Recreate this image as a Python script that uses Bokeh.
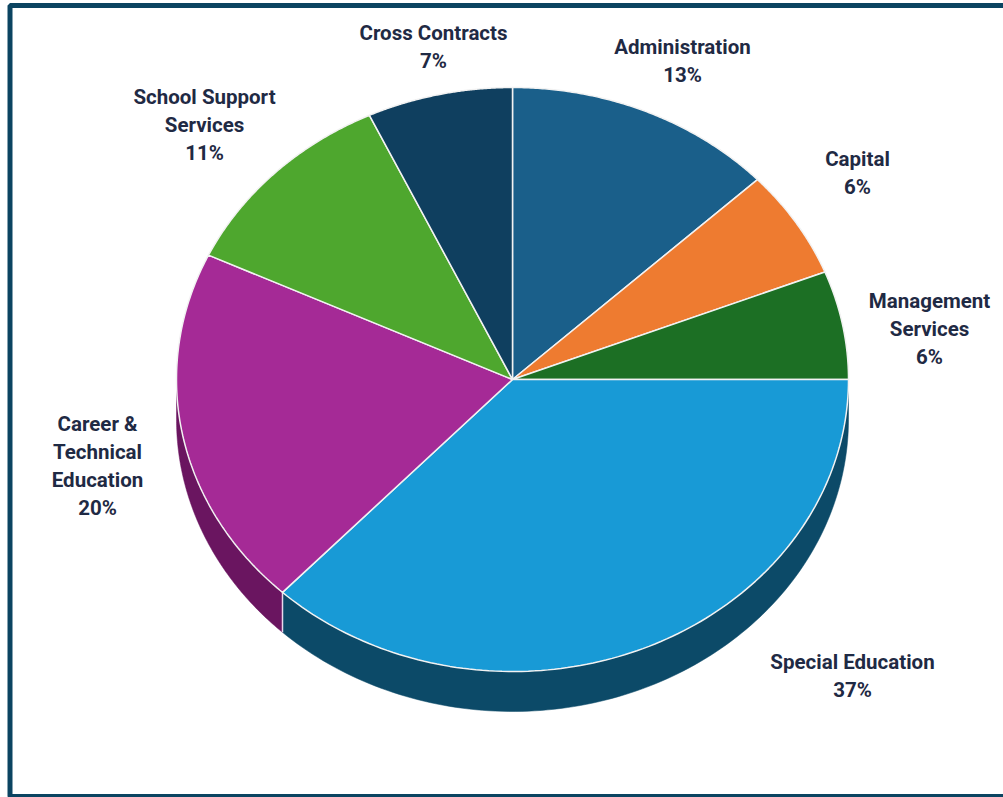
import numpy as np
from bokeh.core.properties import value
from bokeh.embed import file_html
from bokeh.models import ColumnDataSource, Range1d
from bokeh.plotting import figure
from bokeh.resources import INLINE

# Budget shares by category, clockwise from twelve o'clock
categories = ["Administration", "Capital", "Management Services", "Special Education",
              "Career & Technical Education", "School Support Services", "Cross Contracts"]
shares = [13, 6, 6, 37, 20, 11, 7]
top_colors = ["#1a5f8a", "#ee7b30", "#1c6f24", "#189ad6", "#a52a96", "#4ea72e", "#0f3f5f"]
side_colors = ["#0e3f5c", "#a8551f", "#124a18", "#0c4a68", "#6a1560", "#2f6b1a", "#0a2a40"]

# Label text lines and anchor points (centre x, middle of the first line)
label_lines = [["Administration", "13%"], ["Capital", "6%"], ["Management", "Services", "6%"],
               ["Special Education", "37%"], ["Career &", "Technical", "Education", "20%"],
               ["School Support", "Services", "11%"], ["Cross Contracts", "7%"]]
label_x = [682, 857, 929, 852, 97, 204, 433]
label_y = [46, 158, 300, 661, 423, 96, 32]
LINE_STEP = 28

# Tilted pie geometry
CX, CY, RX, RY, DEPTH = 512, 379, 336, 292, 40
INK = "#1f2a44"
BORDER = "#0b4461"

p = figure(width=1003, height=797, output_backend="svg", toolbar_location=None,
           x_range=Range1d(0, 1003), y_range=Range1d(797, 0),
           background_fill_color="white", border_fill_color="white",
           min_border=0)
p.axis.visible = False
p.grid.visible = False
p.outline_line_color = None


def rim(a0, a1, n=120):
    """Points along the pie's edge between two clockwise angles from the top."""
    t = np.linspace(a0, a1, n)
    return CX + RX * np.sin(t), CY - RY * np.cos(t)


edges = 2 * np.pi * np.cumsum([0] + shares) / sum(shares)

# Visible side wall: only the front half of the rim (angles 90 to 270 degrees)
side_xs, side_ys, side_fill = [], [], []
for i in range(len(shares)):
    a0, a1 = max(edges[i], np.pi / 2), min(edges[i + 1], 3 * np.pi / 2)
    if a1 <= a0:
        continue
    x, y = rim(a0, a1)
    side_xs.append(np.concatenate([x, x[::-1]]))
    side_ys.append(np.concatenate([y, y[::-1] + DEPTH]))
    side_fill.append(side_colors[i])
p.patches("x", "y", source=ColumnDataSource(dict(x=side_xs, y=side_ys, c=side_fill)),
          fill_color="c", line_color="c", line_width=0.5)

# Pale seam where two side walls meet
a = edges[4]
x, y = rim(a, a, 2)
p.line([x[0], x[0]], [y[0], y[0] + DEPTH], line_color="#e8d8ec", line_width=1.5)

# Top face slices
xs, ys = [], []
for i in range(len(shares)):
    x, y = rim(edges[i], edges[i + 1])
    xs.append(np.concatenate([[CX], x]))
    ys.append(np.concatenate([[CY], y]))
p.patches("x", "y", source=ColumnDataSource(dict(x=xs, y=ys, c=top_colors)),
          fill_color="c", line_color="#f2f2f2", line_width=1.5)

# Category names and percentages, one glyph per text line
tx, ty, tt = [], [], []
for lines, x0, y0 in zip(label_lines, label_x, label_y):
    for j, line in enumerate(lines):
        tx.append(x0)
        ty.append(y0 + j * LINE_STEP)
        tt.append(line)
p.text("x", "y", text="t", source=ColumnDataSource(dict(x=tx, y=ty, t=tt)),
       text_font=value("Roboto"), text_font_style="bold", text_font_size="20.5px",
       text_color=INK, text_align="center", text_baseline="middle")

# Frame around the chart; the right-hand side runs off the page
p.line([1010, 9.5, 9.5, 1010], [5, 5, 796, 796], line_color=BORDER, line_width=5)

open("out.html", "w").write(file_html(p, INLINE))
